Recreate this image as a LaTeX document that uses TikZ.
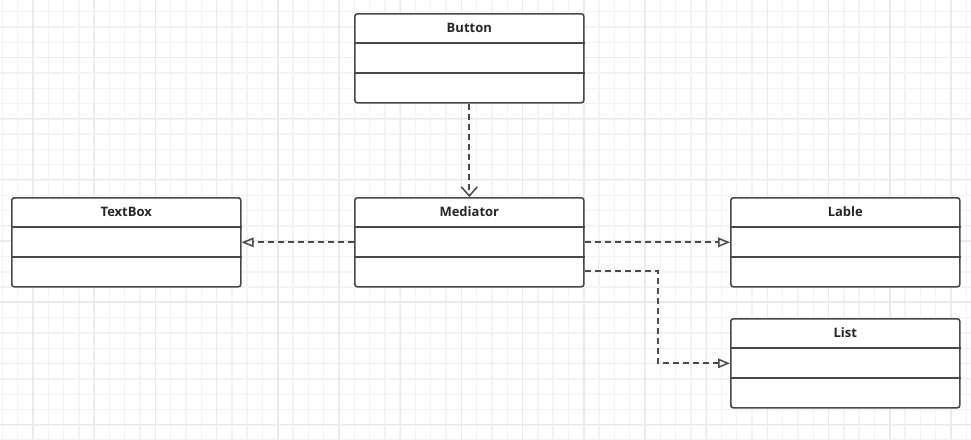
\documentclass[tikz,border=0pt]{standalone}
\usepackage{fontspec}
\setmainfont{Open Sans}
\usetikzlibrary{arrows.meta,calc}
\definecolor{gridminor}{HTML}{F3F3F3}
\definecolor{gridmajor}{HTML}{EAEAEA}
\definecolor{edge}{HTML}{45484D}
\definecolor{dash}{HTML}{4A4A4A}
\definecolor{txt}{HTML}{262626}
\tikzset{
  cls/.style={draw=edge, line width=1.6pt, fill=white, rounded corners=2.5pt,
    minimum width=229pt, minimum height=89pt, anchor=north west, inner sep=0pt},
  divider/.style={draw=edge, line width=1.6pt},
  ttl/.style={font=\bfseries\fontsize{13}{15}\selectfont, text=txt},
  dep/.style={draw=dash, line width=1.8pt, dash pattern=on 6pt off 4pt},
  opentri/.style={-{Triangle[open, length=12pt, width=9.5pt, line width=1.5pt]}},
  openv/.style={-{Straight Barb[length=9pt, width=16pt, line width=1.5pt]}},
}
\begin{document}
\begin{tikzpicture}[x=1pt, y=-1pt]
\useasboundingbox (0,0) rectangle (971,439);
\fill[white] (0,0) rectangle (971,439);
% grid
\foreach \i in {0,...,63} \draw[gridminor, line width=1.4pt] ({2.3+15.3*\i},0) -- ({2.3+15.3*\i},439);
\foreach \i in {0,...,28} \draw[gridminor, line width=1.4pt] (0,{11.7+15.3*\i}) -- (971,{11.7+15.3*\i});
\foreach \i in {0,...,15} \draw[gridmajor, line width=1.4pt] ({33+61.2*\i},0) -- ({33+61.2*\i},439);
\foreach \i in {0,...,6} \draw[gridmajor, line width=1.4pt] (0,{57.3+61.2*\i}) -- (971,{57.3+61.2*\i});

% classes
\foreach \n/\t/\x/\y in {button/Button/354/13, textbox/TextBox/11/197, mediator/Mediator/354/197, lable/Lable/730/197, list/List/730/318}{
  \node[cls] (\n) at (\x,\y) {};
  \draw[divider] ($(\n.north west)+(0,30)$) -- ($(\n.north east)+(0,30)$);
  \draw[divider] ($(\n.north west)+(0,60)$) -- ($(\n.north east)+(0,60)$);
  \node[ttl] (\n-title) at ($(\n.north)+(0,15)$) {\t};
}

% connectors
\draw[dep, openv] (button.south) -- (mediator.north);
\draw[dep, opentri] (mediator.west) -- (textbox.east);
\draw[dep, opentri] (mediator.east) -- (lable.west);
\coordinate (m2) at ($(mediator.east)+(0,29)$);
\draw[dep, opentri] (m2) -- ++(73,0) |- (list.west);
\end{tikzpicture}
\end{document}
